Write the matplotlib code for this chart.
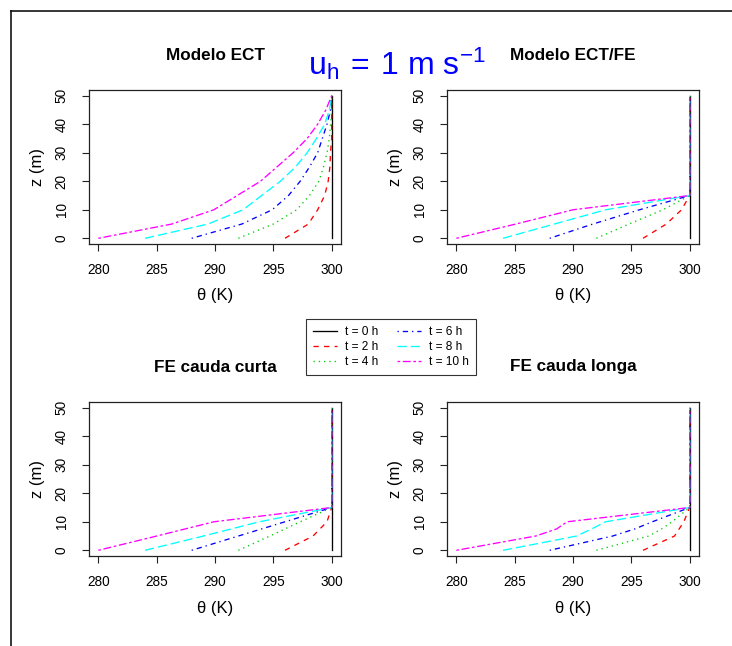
import matplotlib
matplotlib.use("Agg")
import matplotlib.pyplot as plt
from matplotlib.lines import Line2D

plt.rcParams['font.family'] = ['Liberation Sans', 'DejaVu Sans']
plt.rcParams['mathtext.fontset'] = 'custom'
plt.rcParams['mathtext.rm'] = 'Liberation Sans'
plt.rcParams['mathtext.it'] = 'Liberation Sans:italic'
plt.rcParams['mathtext.bf'] = 'Liberation Sans:bold'

# ---------------- data ----------------
times = ["t = 0 h", "t = 2 h", "t = 4 h", "t = 6 h", "t = 8 h", "t = 10 h"]
colors = ["black", "red", "#00CD00", "blue", "cyan", "magenta"]
styles = ["-", (0, (4, 4)), (0, (1, 3)), (0, (1, 3, 4, 3)), (0, (7, 3)), (0, (2, 2, 6, 2))]

titles = ["Modelo ECT", "Modelo ECT/FE", "FE cauda curta", "FE cauda longa"]

z_ect = [0, 5, 10, 15, 20, 25, 30, 35, 40, 45, 50]
ect_t0 = [300, 300, 300, 300, 300, 300, 300, 300, 300, 300, 300]
ect_t2 = [296.0, 298.0, 298.8, 299.4, 299.7, 299.85, 299.9, 300, 300, 300, 300]
ect_t4 = [292.0, 295.0, 297.0, 298.1, 298.9, 299.3, 299.6, 299.8, 299.9, 300, 300]
ect_t6 = [288.0, 292.3, 294.9, 296.3, 297.3, 298.1, 298.8, 299.2, 299.6, 299.9, 300]
ect_t8 = [284.0, 289.4, 292.4, 294.0, 295.6, 296.9, 297.9, 298.7, 299.4, 299.8, 300]
ect_t10 = [280.0, 286.3, 289.9, 291.9, 293.9, 295.3, 296.7, 297.9, 298.8, 299.5, 300]

z_fe = [0, 5, 10, 15, 50]
ectfe_t0 = [300, 300, 300, 300, 300]
ectfe_t2 = [296.0, 298.0, 299.3, 300, 300]
ectfe_t4 = [292.0, 294.8, 297.7, 300, 300]
ectfe_t6 = [288.0, 291.7, 295.7, 300, 300]
ectfe_t8 = [284.0, 288.4, 292.8, 300, 300]
ectfe_t10 = [280.0, 285.1, 290.0, 300, 300]

curta_t0 = [300, 300, 300, 300, 300]
curta_t2 = [296.0, 298.4, 299.6, 300, 300]
curta_t4 = [292.0, 294.7, 297.3, 300, 300]
curta_t6 = [288.0, 292.0, 296.0, 300, 300]
curta_t8 = [284.0, 289.0, 293.8, 300, 300]
curta_t10 = [280.0, 285.0, 289.9, 300, 300]

z_longa = [0, 5, 7.5, 10, 15, 50]
longa_t0 = [300, 300, 300, 300, 300, 300]
longa_t2 = [296.0, 298.7, 299.1, 299.5, 300, 300]
longa_t4 = [292.0, 296.5, 297.6, 298.5, 300, 300]
longa_t6 = [288.0, 293.4, 295.3, 296.8, 300, 300]
longa_t8 = [284.0, 290.3, 291.6, 292.8, 300, 300]
longa_t10 = [280.0, 286.8, 288.6, 289.5, 300, 300]

panels = [
    (z_ect, [ect_t0, ect_t2, ect_t4, ect_t6, ect_t8, ect_t10]),
    (z_fe, [ectfe_t0, ectfe_t2, ectfe_t4, ectfe_t6, ectfe_t8, ectfe_t10]),
    (z_fe, [curta_t0, curta_t2, curta_t4, curta_t6, curta_t8, curta_t10]),
    (z_longa, [longa_t0, longa_t2, longa_t4, longa_t6, longa_t8, longa_t10]),
]

xticks = [280, 285, 290, 295, 300]
yticks = [0, 10, 20, 30, 40, 50]

# ---------------- figure ----------------
W, H = 732, 646
fig = plt.figure(figsize=(W / 100, H / 100), dpi=100)

ax_left = [89, 447]
ax_top = [90, 402]
aw, ah = 252, 154

handles = None
for i, (zz, series) in enumerate(panels):
    r, c = divmod(i, 2)
    l = ax_left[c]
    t = ax_top[r]
    ax = fig.add_axes([l / W, 1 - (t + ah) / H, aw / W, ah / H])
    hs = []
    for s, col, ls, lab in zip(series, colors, styles, times):
        h, = ax.plot(s, zz, color=col, linestyle=ls, lw=0.95, label=lab)
        hs.append(h)
    if handles is None:
        handles = hs
    ax.set_xlim(279.2, 300.8)
    ax.set_ylim(-2, 52)
    ax.set_xticks(xticks)
    ax.set_yticks(yticks)
    ax.tick_params(axis='both', labelsize=9.8, length=5, width=0.8, color='#222222')
    ax.tick_params(axis='x', pad=8.5)
    ax.tick_params(axis='y', pad=9.5, labelrotation=90)
    for lb in ax.get_yticklabels():
        lb.set_va('center')
    for sp in ax.spines.values():
        sp.set_linewidth(0.9)
        sp.set_color('#222222')
    ax.set_xlabel("θ (K)", fontsize=12, va='center')
    ax.xaxis.set_label_coords(0.5, -(296 - 244) / ah)
    ax.set_ylabel("z (m)", fontsize=12, va='center')
    ax.yaxis.set_label_coords(-(89 - 37.5) / aw, 0.5)
    fig.text((l + aw / 2) / W, 1 - (t - 35) / H, titles[i], ha='center', va='center',
             fontsize=12.3, fontweight='bold')

fig.text(396.5 / W, 1 - 75 / H, r'$\mathregular{u_h\:=\:1\ m\ s^{-1}}$', ha='center',
         va='baseline', color='blue', fontsize=23)

leg = fig.legend(handles, times, ncol=2, loc='center', bbox_to_anchor=(391 / W, 1 - 347 / H),
                 fontsize=8.6, frameon=True, fancybox=False, edgecolor='black',
                 handlelength=1.95, handletextpad=0.7, columnspacing=1.6,
                 labelspacing=0.25, borderpad=0.6, borderaxespad=0)
leg.get_frame().set_linewidth(0.8)

# outer frame (partially visible)
fig.add_artist(Line2D([11 / W, 11 / W], [0, 1 - 11 / H], transform=fig.transFigure,
                      color='black', lw=1.1))
fig.add_artist(Line2D([11 / W, 1], [1 - 11 / H, 1 - 11 / H], transform=fig.transFigure,
                      color='black', lw=1.1))

fig.savefig("out.png", dpi=100)
